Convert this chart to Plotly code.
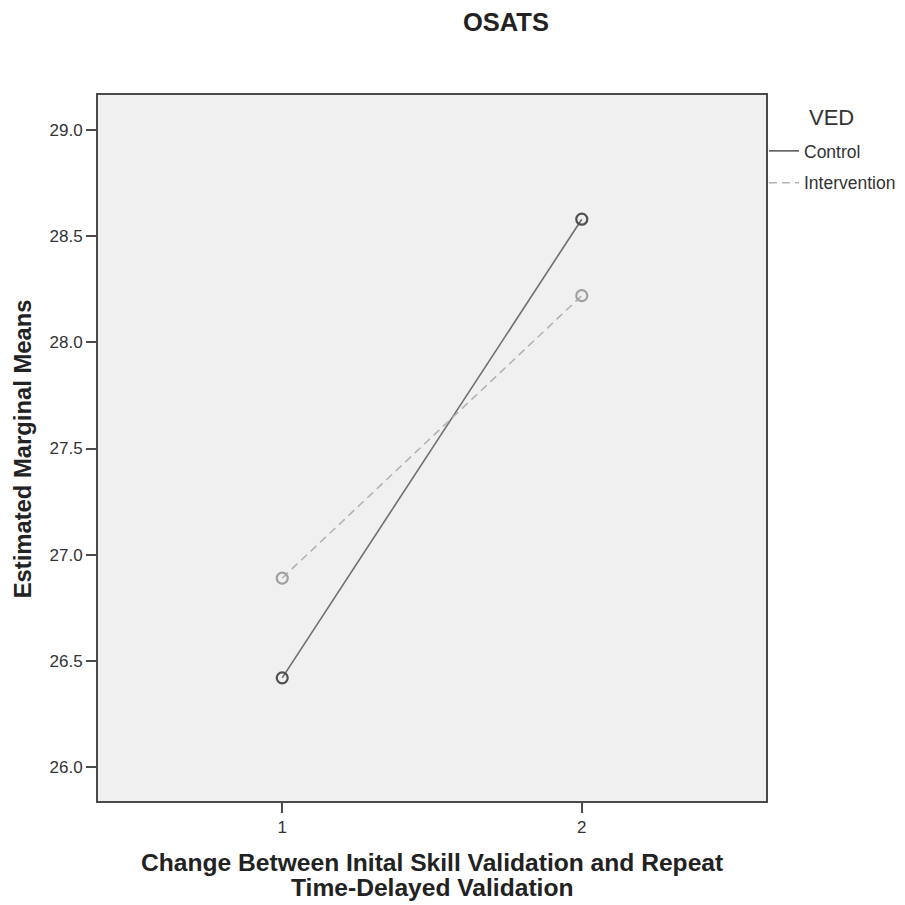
import plotly.graph_objects as go

times = [1, 2]
control = [26.42, 28.58]
intervention = [26.89, 28.22]
y_ticks = [26.0, 26.5, 27.0, 27.5, 28.0, 28.5, 29.0]
x_ticks = [1, 2]

FONT = "Liberation Sans, Arial, sans-serif"
DARK = "#222222"

# plot area in screenshot pixels (page shifts content by 8px)
PL, PT, PW, PH = 98, 95, 671, 706
SHIFT = 8


def px(xp):
    return (xp - PL) / PW


def py(yp):
    return (PT + PH - yp) / PH


fig = go.Figure()
fig.add_trace(go.Scatter(
    x=times, y=control, mode="lines+markers", showlegend=False,
    line=dict(color="#6e6e6e", width=1.6),
    marker=dict(symbol="circle-open", size=11, color="#505050",
                line=dict(width=2.2, color="#505050")),
))
fig.add_trace(go.Scatter(
    x=times, y=intervention, mode="lines+markers", showlegend=False,
    line=dict(color="#b3b3b3", width=1.6, dash="8px,5px"),
    marker=dict(symbol="circle-open", size=11, color="#a0a0a0",
                line=dict(width=2.2, color="#a0a0a0")),
))
fig.add_trace(go.Scatter(x=[None], y=[None], mode="lines", name="Control",
                         legendgroup="c", line=dict(color="#505050", width=1.5)))
fig.add_trace(go.Scatter(x=[None], y=[None], mode="lines", name="Intervention",
                         legendgroup="i", line=dict(color="#b3b3b3", width=1.5, dash="8px,5px")))

fig.update_layout(
    width=905, height=905,
    margin=dict(l=PL - SHIFT, r=905 - (PL - SHIFT) - PW, t=PT - SHIFT, b=905 - (PT - SHIFT) - PH),
    paper_bgcolor="white",
    plot_bgcolor="#f0f0f0",
    font=dict(family=FONT, size=17, color="#333333"),
    showlegend=True,
    legend=dict(x=0.997, xanchor="left", y=py(133), yanchor="top",
                font=dict(size=17.5, family=FONT, color="#333333"),
                bgcolor="rgba(0,0,0,0)", traceorder="grouped", tracegroupgap=6,
                itemwidth=30),
)

fig.add_annotation(text="<b>OSATS</b>", xref="paper", yref="paper", x=px(508), y=py(22),
                   xanchor="center", yanchor="middle", showarrow=False,
                   font=dict(size=25.5, family=FONT, color=DARK))
fig.add_annotation(text="VED", xref="paper", yref="paper", x=px(835), y=py(118),
                   xanchor="center", yanchor="middle", showarrow=False,
                   font=dict(size=22, family=FONT, color="#333333"))
fig.add_annotation(text="<b>Change Between Inital Skill Validation and Repeat</b>",
                   xref="paper", yref="paper", x=px(433), y=py(862),
                   xanchor="center", yanchor="middle", showarrow=False,
                   font=dict(size=24.6, family=FONT, color=DARK))
fig.add_annotation(text="<b>Time-Delayed Validation</b>",
                   xref="paper", yref="paper", x=px(433), y=py(888),
                   xanchor="center", yanchor="middle", showarrow=False,
                   font=dict(size=24.6, family=FONT, color=DARK))
fig.add_annotation(text="<b>Estimated Marginal Means</b>",
                   xref="paper", yref="paper", x=px(22), y=py(449), textangle=-90,
                   xanchor="center", yanchor="middle", showarrow=False,
                   font=dict(size=23.8, family=FONT, color=DARK))

fig.update_xaxes(
    range=[0.385, 2.615], tickvals=x_ticks, ticktext=[str(v) for v in x_ticks],
    showgrid=False, zeroline=False,
    showline=True, linecolor="#4a4a4a", linewidth=2, mirror=True,
    ticks="outside", ticklen=10, tickwidth=2, tickcolor="#4a4a4a",
    tickfont=dict(size=17, color="#333333"),
)
fig.update_yaxes(
    range=[25.84, 29.165], tickvals=y_ticks, ticktext=[f"{v:.1f}" for v in y_ticks],
    showgrid=False, zeroline=False,
    showline=True, linecolor="#4a4a4a", linewidth=2, mirror=True,
    ticks="outside", ticklen=10, tickwidth=2, tickcolor="#4a4a4a",
    tickfont=dict(size=17, color="#333333"),
)

fig.write_html("out.html")
